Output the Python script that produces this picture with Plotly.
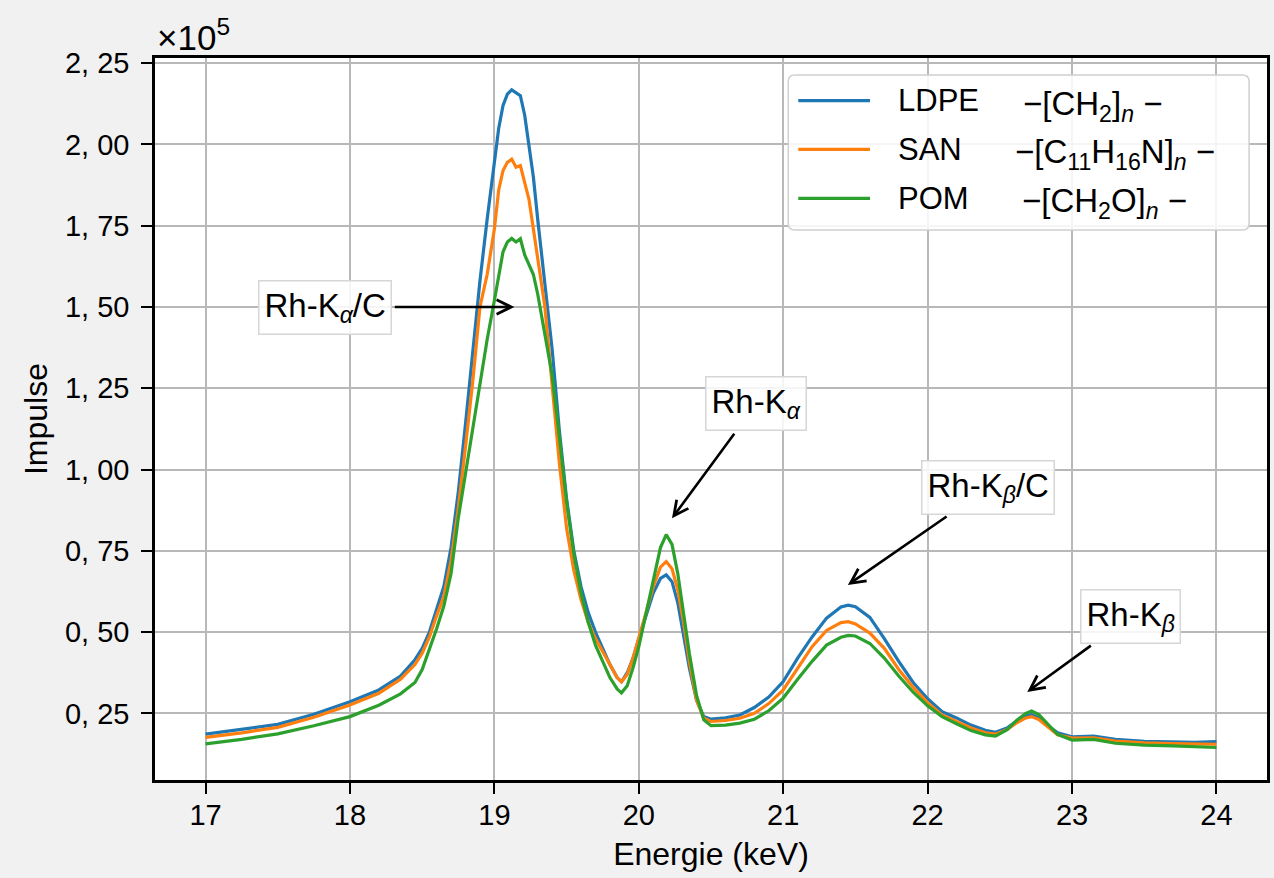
import plotly.graph_objects as go

# Energy grid (keV)
energy = [17.0, 17.25, 17.5, 17.75, 18.0, 18.2, 18.35, 18.45, 18.5, 18.55, 18.6, 18.65, 18.7, 18.75, 18.8, 18.85, 18.9, 18.95,
          19.0, 19.03, 19.06, 19.09, 19.12, 19.15, 19.18, 19.21, 19.24, 19.27, 19.3,
          19.35, 19.4, 19.45, 19.5, 19.55, 19.6, 19.65, 19.7, 19.75, 19.8, 19.85, 19.88,
          19.92, 19.96, 20.0, 20.05, 20.1, 20.15, 20.19, 20.23, 20.27, 20.31, 20.35, 20.4, 20.45, 20.5,
          20.6, 20.7, 20.8, 20.9, 21.0, 21.1, 21.2, 21.3, 21.4, 21.45, 21.5, 21.6, 21.7, 21.8, 21.9, 22.0, 22.1, 22.2, 22.3, 22.4, 22.47,
          22.55, 22.62, 22.68, 22.72, 22.77, 22.83, 22.9, 23.0, 23.15, 23.3, 23.5, 23.7, 23.85, 24.0]

# Impulse values in units of 1e5
ldpe = [0.186, 0.200, 0.216, 0.247, 0.286, 0.322, 0.365, 0.415, 0.45, 0.50, 0.57, 0.64, 0.76, 0.93, 1.14, 1.37, 1.58, 1.77,
        1.95, 2.05, 2.12, 2.155, 2.168, 2.16, 2.15, 2.09, 2.00, 1.90, 1.77,
        1.56, 1.37, 1.12, 0.91, 0.75, 0.64, 0.56, 0.50, 0.45, 0.40, 0.36, 0.347,
        0.375, 0.42, 0.48, 0.55, 0.62, 0.665, 0.676, 0.655, 0.59, 0.49, 0.39, 0.29, 0.24, 0.232,
        0.236, 0.245, 0.268, 0.30, 0.348, 0.42, 0.485, 0.543, 0.577, 0.583, 0.578, 0.545, 0.48, 0.41, 0.345, 0.295, 0.255, 0.236, 0.214, 0.198, 0.192,
        0.205, 0.228, 0.242, 0.246, 0.236, 0.213, 0.19, 0.178, 0.180, 0.170, 0.164, 0.162, 0.161, 0.163]

san = [0.176, 0.190, 0.207, 0.238, 0.276, 0.312, 0.355, 0.40, 0.435, 0.485, 0.55, 0.61, 0.72, 0.88, 1.07, 1.27, 1.50, 1.60,
       1.74, 1.86, 1.92, 1.945, 1.955, 1.93, 1.935, 1.88, 1.83, 1.74, 1.65,
       1.50, 1.26, 1.02, 0.82, 0.69, 0.60, 0.53, 0.48, 0.44, 0.40, 0.36, 0.347,
       0.37, 0.42, 0.48, 0.56, 0.64, 0.70, 0.717, 0.695, 0.63, 0.53, 0.41, 0.29, 0.235, 0.225,
       0.228, 0.235, 0.25, 0.28, 0.322, 0.39, 0.455, 0.505, 0.529, 0.532, 0.525, 0.497, 0.45, 0.385, 0.33, 0.283, 0.245, 0.225, 0.205, 0.19, 0.186,
       0.200, 0.222, 0.236, 0.240, 0.231, 0.208, 0.184, 0.174, 0.175, 0.165, 0.159, 0.157, 0.156, 0.155]

pom = [0.156, 0.170, 0.187, 0.212, 0.240, 0.275, 0.31, 0.345, 0.385, 0.445, 0.51, 0.58, 0.68, 0.85, 0.99, 1.13, 1.27, 1.40,
       1.52, 1.60, 1.67, 1.70, 1.711, 1.70, 1.71, 1.66, 1.63, 1.60, 1.54,
       1.42, 1.29, 1.10, 0.90, 0.74, 0.62, 0.53, 0.46, 0.41, 0.36, 0.325, 0.313,
       0.335, 0.39, 0.455, 0.56, 0.66, 0.76, 0.80, 0.77, 0.68, 0.56, 0.435, 0.305, 0.23, 0.212,
       0.214, 0.22, 0.232, 0.258, 0.297, 0.355, 0.41, 0.46, 0.484, 0.49, 0.488, 0.465, 0.42, 0.365, 0.315, 0.273, 0.24, 0.218, 0.197, 0.184, 0.180,
       0.200, 0.230, 0.250, 0.257, 0.246, 0.218, 0.185, 0.168, 0.170, 0.158, 0.152, 0.150, 0.148, 0.145]

x_ticks = [17, 18, 19, 20, 21, 22, 23, 24]
y_ticks = [0.25, 0.50, 0.75, 1.00, 1.25, 1.50, 1.75, 2.00, 2.25]
y_tick_text = ["0, 25", "0, 50", "0, 75", "1, 00", "1, 25", "1, 50", "1, 75", "2, 00", "2, 25"]

series_labels = ["LDPE", "SAN", "POM"]
series_formulas = ["\u2212[CH<sub>2</sub>]<sub><i>n</i></sub> \u2212",
                   "\u2212[C<sub>11</sub>H<sub>16</sub>N]<sub><i>n</i></sub> \u2212",
                   "\u2212[CH<sub>2</sub>O]<sub><i>n</i></sub> \u2212"]
series_values = [ldpe, san, pom]
series_colors = ["#1f77b4", "#ff7f0e", "#2ca02c"]

# annotation labels: text, arrow tip (x, y), text position (x, y)
ann_text = ["Rh-K<sub><i>\u03b1</i></sub>/C", "Rh-K<sub><i>\u03b1</i></sub>",
            "Rh-K<sub><i>\u03b2</i></sub>/C", "Rh-K<sub><i>\u03b2</i></sub>"]
ann_tip_x = [19.138, 20.23, 21.448, 22.69]
ann_tip_y = [1.50, 0.85, 0.645, 0.316]
ann_txt_x = [17.824, 20.814, 22.421, 23.407]
ann_txt_y = [1.50, 1.202, 0.945, 0.548]

# custom legend layout (paper fractions)
leg_box = (0.5695, 0.7618, 0.9839, 0.9765)
leg_rows_y = [0.9409, 0.8735, 0.8057]
leg_line_x = (0.5785, 0.6430)
leg_name_x = 0.6664
leg_formula_x = [0.7785, 0.7713, 0.7776]

assert len(energy) == len(ldpe) == len(san) == len(pom)

FONT = "Liberation Sans, Arial, sans-serif"

fig = go.Figure()
for name, formula, vals, col in zip(series_labels, series_formulas, series_values, series_colors):
    fig.add_trace(go.Scatter(x=energy, y=vals, mode="lines", name=name,
                             line=dict(color=col, width=3.2), showlegend=False))

for t, tx, ty, ax, ay in zip(ann_text, ann_tip_x, ann_tip_y, ann_txt_x, ann_txt_y):
    fig.add_annotation(x=tx, y=ty, ax=ax, ay=ay, xref="x", yref="y", axref="x", ayref="y",
                       text=t, showarrow=True, arrowhead=5, arrowsize=1.1, arrowwidth=2.6,
                       arrowcolor="black", standoff=0, startstandoff=4,
                       font=dict(family=FONT, size=33, color="black"),
                       bgcolor="rgba(255,255,255,0.85)", bordercolor="#d6d6d6",
                       borderwidth=1.5, borderpad=5)

fig.add_annotation(xref="paper", yref="paper", x=0, y=1, xanchor="left", yanchor="bottom",
                   text="\u00d710<sup>5</sup>", showarrow=False, xshift=0, yshift=-1,
                   font=dict(family=FONT, size=35, color="black"))

# legend box (rounded rectangle)
x0, y0, x1, y1 = leg_box
rx, ry = 0.006, 0.009
legend_path = (f"M{x0+rx},{y0} L{x1-rx},{y0} Q{x1},{y0} {x1},{y0+ry} L{x1},{y1-ry} Q{x1},{y1} {x1-rx},{y1} "
               f"L{x0+rx},{y1} Q{x0},{y1} {x0},{y1-ry} L{x0},{y0+ry} Q{x0},{y0} {x0+rx},{y0} Z")
fig.add_shape(type="path", path=legend_path, xref="paper", yref="paper",
              fillcolor="rgba(255,255,255,0.85)", line=dict(color="#d0d0d0", width=1.5), layer="above")
for ry_, col, lab, fx, formula in zip(leg_rows_y, series_colors, series_labels, leg_formula_x, series_formulas):
    fig.add_shape(type="line", xref="paper", yref="paper", x0=leg_line_x[0], x1=leg_line_x[1],
                  y0=ry_, y1=ry_, line=dict(color=col, width=3.2), layer="above")
    fig.add_annotation(xref="paper", yref="paper", x=leg_name_x, y=ry_, xanchor="left", yanchor="middle",
                       text=lab, showarrow=False, font=dict(family=FONT, size=31, color="black"))
    fig.add_annotation(xref="paper", yref="paper", x=fx, y=ry_, xanchor="left", yanchor="middle",
                       text=formula, showarrow=False, yshift=-5,
                       font=dict(family=FONT, size=33, color="black"))

axis_common = dict(showline=True, linecolor="black", linewidth=2.5, mirror=True,
                   showgrid=True, gridcolor="#b8b8b8", gridwidth=1.6,
                   ticks="outside", ticklen=11, tickwidth=2, tickcolor="black",
                   tickfont=dict(family=FONT, size=29, color="black"), zeroline=False)

fig.update_xaxes(range=[16.65, 24.35], tickvals=x_ticks, ticklabelstandoff=-4,
                 title=dict(text="Energie (keV)", font=dict(family=FONT, size=32, color="black"), standoff=14),
                 **axis_common)
fig.update_yaxes(range=[0.045, 2.266], tickvals=y_ticks, ticktext=y_tick_text, ticklabelstandoff=6,
                 title=dict(text="Impulse", font=dict(family=FONT, size=32, color="black"), standoff=8),
                 **axis_common)

fig.update_layout(
    width=1274, height=878,
    margin=dict(l=155, r=4, t=58, b=98),
    paper_bgcolor="#f1f1f1", plot_bgcolor="white",
    font=dict(family=FONT, size=29, color="black"),
    showlegend=False,
)

fig.write_html("out.html")
